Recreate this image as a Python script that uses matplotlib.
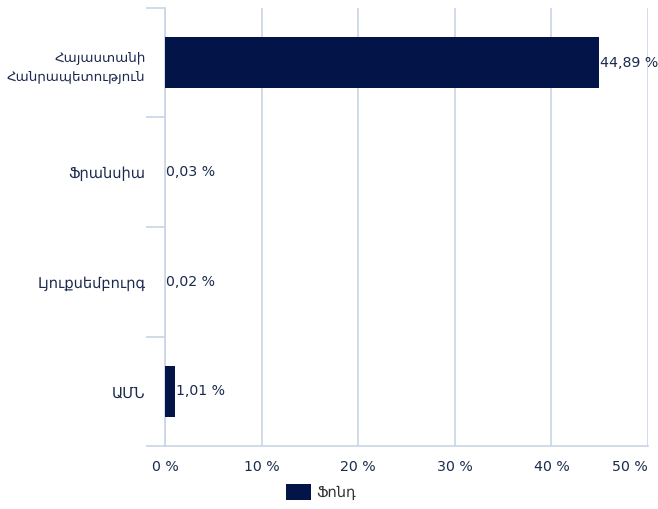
import matplotlib.pyplot as plt
import numpy as np

categories = ["Հայաստանի\nՀանրապետություն", "Ֆրանսիա", "Լյուքսեմբուրգ", "ԱՄՆ"]
values = [44.89, 0.03, 0.02, 1.01]
xticks = [0, 10, 20, 30, 40, 50]
series_name = "Ֆոնդ"

BAR = "#021448"
GRID = "#c9d4e6"
TEXT = "#1b2a4e"

plt.rcParams['font.family'] = ['DejaVu Sans']

fig = plt.figure(figsize=(6.58, 5.09), dpi=100)
ax = fig.add_axes([165 / 658, 1 - 446 / 509, 483 / 658, 438 / 509])

y = np.arange(len(categories))
ax.barh(y, values, height=0.47, color=BAR, label=series_name, zorder=3)

for yi, v in zip(y, values):
    ax.text(v + 0.1, yi, f"{v:.2f}".replace('.', ',') + " %", va='center', ha='left',
            fontsize=10.2, color=TEXT, zorder=4)

ax.set_xlim(0, 50)
ax.set_ylim(len(categories) - 0.5, -0.5)
ax.set_xticks(xticks)
xlabels = ax.set_xticklabels([f"{t} %" for t in xticks], fontsize=10.2, color=TEXT)
xlabels[-1].set_horizontalalignment('right')
ax.set_yticks(y)
ylabels = ax.set_yticklabels(categories, fontsize=10.5, color=TEXT, ha='right')
ylabels[0].set_fontsize(9.7)
ylabels[0].set_linespacing(1.6)
ax.set_yticks(np.arange(-0.5, len(categories)), minor=True)

ax.tick_params(axis='y', which='major', length=0, pad=14)
ax.tick_params(axis='y', which='minor', length=14, color=GRID, width=1.2)
ax.tick_params(axis='x', length=0, pad=10)

ax.grid(axis='x', color=GRID, linewidth=1.2, zorder=0)
for s in ['top', 'right']:
    ax.spines[s].set_visible(False)
ax.spines['left'].set_color(GRID)
ax.spines['left'].set_linewidth(1.2)
ax.spines['bottom'].set_color(GRID)
ax.spines['bottom'].set_linewidth(1.2)

fig.legend(loc='center', bbox_to_anchor=(321 / 658, 1 - 492 / 509), frameon=False,
           fontsize=10.5, labelcolor="#333333", handlelength=1.7, handleheight=1.3,
           handletextpad=0.4)

fig.savefig("out.png", dpi=100)
